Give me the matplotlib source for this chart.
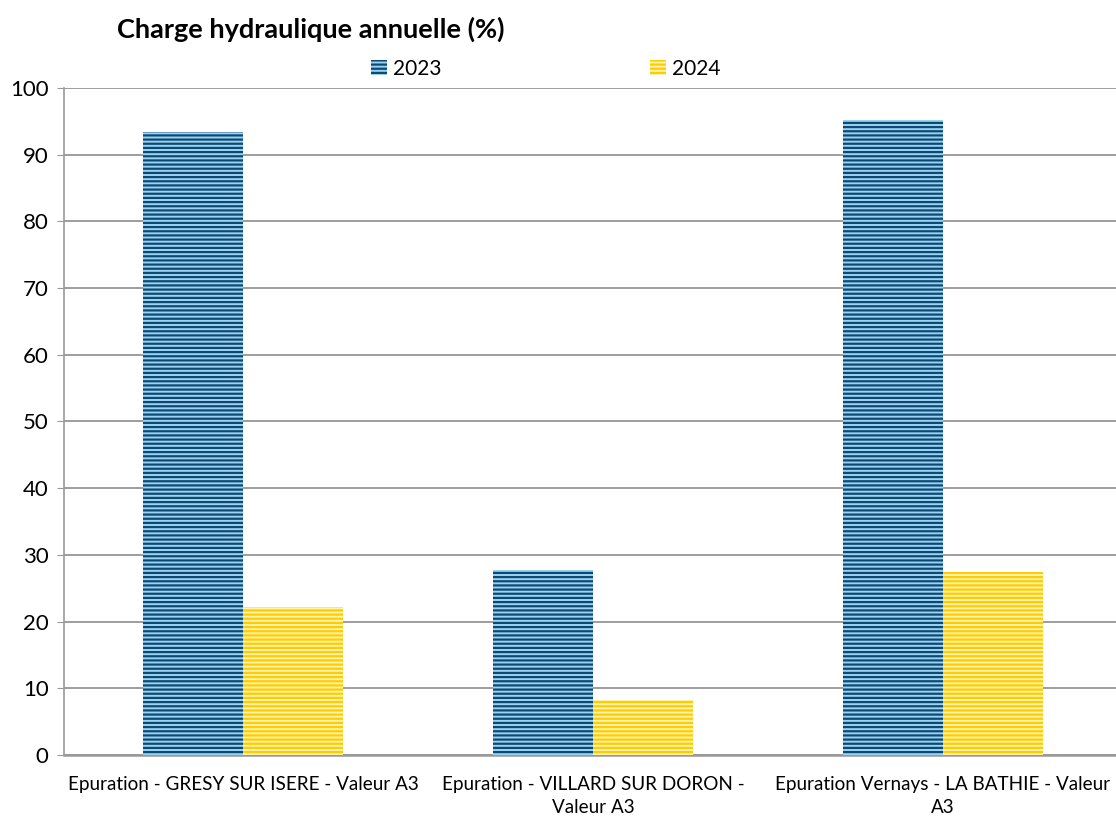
import matplotlib.pyplot as plt
import numpy as np
from matplotlib.patches import Patch

plt.rcParams['font.family'] = ['Lato', 'DejaVu Sans']
plt.rcParams['hatch.linewidth'] = 1.6

# Data
categories = ["Epuration - GRESY SUR ISERE - Valeur A3",
              "Epuration - VILLARD SUR DORON -\nValeur A3",
              "Epuration Vernays - LA BATHIE - Valeur\nA3"]
years = ["2023", "2024"]
values_2023 = [93.4, 27.8, 95.2]
values_2024 = [22.2, 8.2, 27.5]

face_colors = ['#9dd3f2', '#fff3b0']
hatch_colors = ['#0d4a73', '#ffcc00']

fig = plt.figure(figsize=(11.16, 8.16), dpi=100)
ax = fig.add_axes([64 / 1116, 0.0748, 1 - 64 / 1116, 0.8174])

x = np.arange(len(categories))
width = 0.2857

for i, vals in enumerate([values_2023, values_2024]):
    ax.bar(x + (i - 0.5) * width, vals, width, color=face_colors[i],
           edgecolor=hatch_colors[i], hatch='----', linewidth=0, zorder=3)

ax.set_xlim(-0.511, 2.494)
ax.set_ylim(0, 100)
ax.set_yticks(range(0, 101, 10))
ax.set_xticks(x)
ax.set_xticklabels(categories, fontsize=13.6, linespacing=1.45)
ax.tick_params(axis='x', length=0, pad=15)
ax.tick_params(axis='y', labelsize=16, length=5, color='#999999', pad=6)
ax.grid(axis='y', color='#8c8c8c', linewidth=1.2, zorder=0)

for s in ['top', 'right']:
    ax.spines[s].set_visible(False)
ax.spines['left'].set_color('#999999')
ax.spines['bottom'].set_color('#999999')
ax.spines['left'].set_linewidth(1.2)
ax.spines['bottom'].set_linewidth(1.8)

handles = [Patch(facecolor=face_colors[i], edgecolor=hatch_colors[i], hatch='----',
                 linewidth=0) for i in range(2)]
fig.legend(handles, years, loc='center', bbox_to_anchor=(0.489, 0.916), ncol=2,
           frameon=False, fontsize=15, handlelength=0.75, handleheight=0.75,
           handletextpad=0.3, columnspacing=10.0)

fig.text(0.105, 0.964, "Charge hydraulique annuelle (%)", fontsize=19.5,
         fontweight='bold', va='center', ha='left')

plt.savefig('out.png', dpi=100)
